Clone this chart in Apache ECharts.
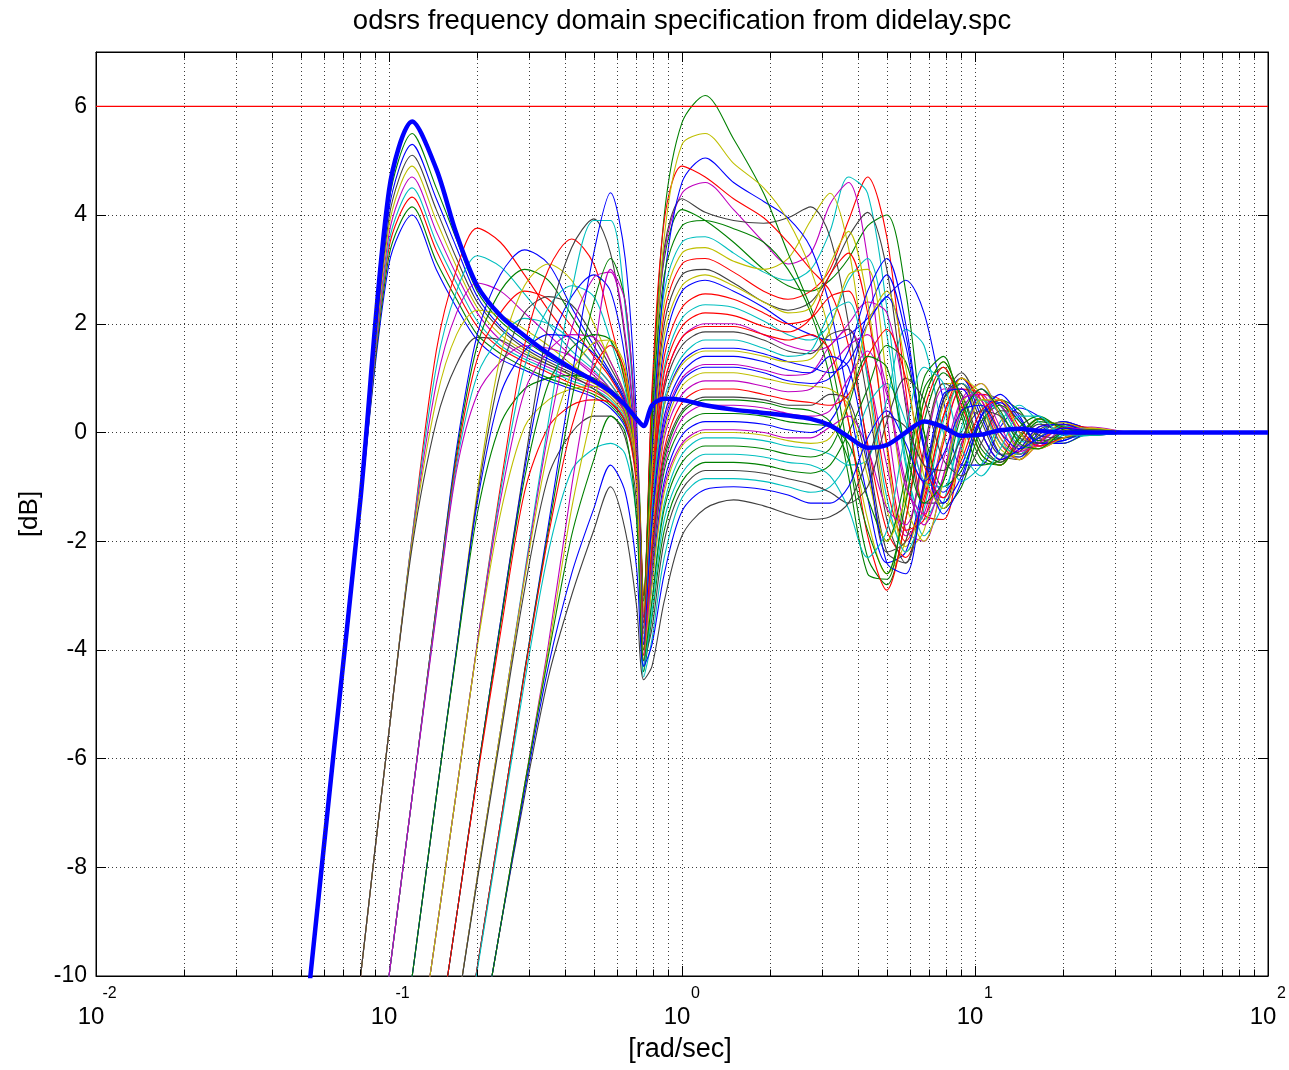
<!DOCTYPE html>
<html>
<head>
<meta charset="utf-8">
<script src="https://cdn.jsdelivr.net/npm/echarts@6/dist/echarts.min.js"></script>
<style>
html, body { margin: 0; padding: 0; background: #ffffff; }
#chart { width: 1289px; height: 1070px; }
</style>
</head>
<body>
<div id="chart"></div>
<script>
// Frequency points (rad/sec) shared by every response curve
const freq = [0.05, 0.065, 0.08, 0.1, 0.12, 0.145, 0.17, 0.2, 0.24, 0.29,
  0.35, 0.42, 0.5, 0.57, 0.64, 0.7, 0.74, 0.79, 0.87, 1.0,
  1.2, 1.5, 1.9, 2.3, 2.75, 3.2, 3.7, 4.3, 5.0, 5.8,
  6.7, 7.8, 9.0, 10.5, 12.2, 14.2, 16.5, 20, 25, 35,
  60, 100];

// Magnitude responses [dB], grouped by where the low-frequency rise starts
const riseGroupA = [
  [-11.7, -5.8, -1.3, 3.1, 4.0, 3.0, 2.3, 1.7, 1.35, 1.15, 0.95, 0.8, 0.65, 0.45, 0.1, -0.7, -3.3, -0.8, 1.6, 2.6, 2.8, 2.6, 2.3, 2.0, 1.8, 1.7, 1.8, 2.1, 2.5, 2.8, 2.2, 0.6, -0.6, -0.6, 0.1, 0.45, 0.3, -0.05, -0.05, 0, 0, 0],
  [-11.7, -5.8, -1.3, 3.25, 4.15, 3.15, 2.45, 1.8, 1.45, 1.2, 1.0, 0.85, 0.7, 0.5, 0.15, -0.65, -3.0, 0.5, 3.2, 4.1, 3.9, 3.5, 3.0, 2.7, 2.6, 2.8, 3.2, 3.8, 4.0, 2.6, 0.0, -1.4, -1.0, 0.1, 0.6, 0.4, -0.1, -0.2, 0.0, 0.02, 0, 0],
  [-11.7, -5.8, -1.3, 3.4, 4.33, 3.35, 2.6, 1.95, 1.55, 1.3, 1.1, 0.9, 0.75, 0.55, 0.2, -0.6, -3.4, -0.4, 2.2, 3.1, 3.2, 2.95, 2.6, 2.45, 2.6, 3.0, 3.9, 4.7, 3.6, 0.8, -1.5, -1.6, -0.3, 0.7, 0.6, 0.0, -0.3, -0.1, 0.05, 0, 0, 0],
  [-11.7, -5.8, -1.3, 3.5, 4.5, 3.5, 2.75, 2.05, 1.6, 1.35, 1.15, 0.95, 0.8, 0.6, 0.25, -0.55, -3.2, 0.0, 2.6, 3.5, 3.6, 3.3, 2.95, 2.8, 3.0, 3.7, 4.7, 4.4, 2.3, -0.5, -1.9, -1.3, 0.1, 0.8, 0.5, -0.1, -0.3, -0.05, 0.06, 0, 0, 0],
  [-11.7, -5.8, -1.3, 3.65, 4.7, 3.7, 2.9, 2.2, 1.7, 1.4, 1.2, 1.0, 0.85, 0.65, 0.3, -0.5, -3.3, 0.3, 3.3, 4.4, 4.6, 4.1, 3.5, 3.1, 3.3, 4.2, 4.6, 3.2, 0.3, -1.8, -2.0, -0.8, 0.6, 0.9, 0.3, -0.3, -0.3, 0.05, 0.1, 0, 0, 0],
  [-11.7, -5.8, -1.3, 3.8, 4.9, 3.9, 3.05, 2.3, 1.8, 1.5, 1.25, 1.05, 0.9, 0.7, 0.35, -0.45, -3.3, -0.2, 2.4, 3.3, 3.4, 3.15, 3.0, 3.2, 3.9, 4.4, 3.4, 1.0, -1.4, -2.1, -1.1, 0.5, 1.0, 0.5, -0.3, -0.45, -0.1, 0.15, 0.05, 0, 0, 0],
  [-11.7, -5.8, -1.3, 3.95, 5.1, 4.1, 3.2, 2.4, 1.9, 1.55, 1.3, 1.1, 0.95, 0.75, 0.4, -0.4, -3.1, 0.6, 3.4, 4.3, 4.05, 3.9, 3.85, 3.95, 4.15, 3.6, 2.0, -0.3, -2.2, -2.4, -1.0, 0.6, 1.1, 0.4, -0.4, -0.5, -0.05, 0.2, 0.05, 0, 0, 0],
  [-11.7, -5.8, -1.3, 4.1, 5.3, 4.3, 3.4, 2.5, 1.95, 1.6, 1.35, 1.15, 0.95, 0.8, 0.45, -0.3, -3.4, -0.3, 2.8, 4.6, 5.05, 4.6, 4.25, 3.95, 3.4, 2.3, 0.6, -1.2, -2.4, -2.2, -0.9, 0.6, 1.0, 0.3, -0.4, -0.45, 0.0, 0.2, 0.05, -0.02, 0, 0],
  [-11.7, -5.8, -1.3, 4.25, 5.5, 4.5, 3.55, 2.6, 2.05, 1.7, 1.4, 1.15, 1.0, 0.8, 0.5, -0.2, -3.0, 0.5, 4.0, 5.7, 6.2, 5.4, 4.4, 3.3, 2.3, 1.4, -0.4, -2.3, -2.8, -1.6, 0.2, 1.1, 0.7, -0.3, -0.55, -0.2, 0.2, 0.12, -0.03, 0, 0, 0]
];
const riseGroupB = [
  [-20, -14.8, -10, -5.5, -1.9, 1.5, 3.0, 3.76, 3.5, 2.9, 2.25, 1.7, 1.25, 0.9, 0.45, -0.4, -3.0, 0.8, 3.9, 4.9, 4.7, 4.3, 3.95, 3.5, 3.0, 2.6, 1.6, -0.2, -1.8, -2.3, -1.3, 0.3, 1.0, 0.6, -0.2, -0.5, -0.2, 0.15, 0.08, 0, 0, 0],
  [-20, -14.8, -10, -5.5, -1.9, 1.2, 2.6, 3.25, 3.05, 2.55, 2.0, 1.5, 1.15, 0.8, 0.4, -0.55, -3.6, -1.0, 1.2, 2.1, 2.35, 2.3, 2.05, 1.8, 1.7, 2.0, 2.8, 3.2, 1.8, -0.6, -1.6, -0.9, 0.4, 0.8, 0.3, -0.25, -0.3, 0.0, 0.06, 0, 0, 0],
  [-20, -14.8, -10, -5.5, -1.95, 0.9, 2.2, 2.75, 2.6, 2.2, 1.8, 1.4, 1.05, 0.75, 0.35, -0.65, -3.7, -1.7, 0.2, 1.0, 1.25, 1.25, 1.15, 1.05, 1.1, 1.6, 1.9, 1.1, -0.6, -1.9, -1.5, -0.1, 0.8, 0.6, -0.1, -0.4, -0.15, 0.1, 0.05, 0, 0, 0],
  [-20, -14.8, -10, -5.5, -2.0, 0.6, 1.8, 2.25, 2.15, 1.9, 1.6, 1.25, 0.95, 0.65, 0.3, -0.75, -3.2, 0.2, 3.6, 5.3, 5.5, 4.95, 4.5, 3.9, 3.0, 1.8, 0.2, -1.6, -2.6, -2.0, -0.5, 0.9, 0.9, 0.0, -0.5, -0.35, 0.1, 0.18, 0.02, -0.02, 0, 0],
  [-20, -14.8, -10, -5.5, -2.1, 0.2, 1.25, 1.75, 1.7, 1.45, 1.25, 1.05, 0.8, 0.55, 0.2, -0.9, -3.5, -0.6, 2.0, 2.9, 3.0, 2.75, 2.4, 2.25, 2.4, 2.9, 3.6, 4.05, 3.0, 0.5, -1.3, -1.3, -0.2, 0.6, 0.5, 0.0, -0.25, -0.1, 0.04, 0, 0, 0]
];
const riseGroupC = [
  [-22, -18, -14, -10, -6.7, -3.2, -0.3, 1.8, 2.9, 3.36, 3.1, 2.3, 1.6, 1.1, 0.6, -0.3, -4.3, -2.7, -0.9, -0.05, 0.2, 0.2, 0.15, 0.05, 0.0, 0.2, 0.9, 2.2, 2.9, 1.8, -0.2, -1.3, -0.8, 0.3, 0.6, 0.25, -0.2, -0.15, 0.02, 0, 0, 0],
  [-22, -18, -14, -10, -6.7, -3.2, -0.4, 1.6, 2.6, 3.0, 2.8, 2.15, 1.5, 1.05, 0.55, -0.4, -3.1, 0.2, 2.9, 3.8, 3.9, 3.75, 3.5, 3.0, 2.2, 1.0, -0.8, -2.6, -2.7, -1.0, 0.8, 1.2, 0.4, -0.5, -0.6, -0.05, 0.25, 0.1, -0.03, 0, 0, 0],
  [-22, -18, -14, -10, -6.7, -3.25, -0.5, 1.35, 2.2, 2.6, 2.45, 1.95, 1.4, 1.0, 0.5, -0.5, -3.5, -0.9, 1.4, 2.3, 2.55, 2.45, 2.2, 2.0, 2.1, 2.5, 2.6, 1.2, -1.0, -2.0, -1.2, 0.3, 0.9, 0.5, -0.2, -0.4, -0.1, 0.12, 0.04, 0, 0, 0],
  [-22, -18, -14, -10, -6.7, -3.3, -0.6, 1.05, 1.75, 2.1, 2.0, 1.7, 1.25, 0.9, 0.45, -0.6, -4.4, -3.1, -1.3, -0.4, -0.1, -0.1, -0.15, -0.25, -0.3, -0.4, -0.6, -0.5, 0.6, 1.9, 1.6, 0.0, -0.9, -0.6, 0.2, 0.5, 0.2, -0.1, -0.05, 0, 0, 0],
  [-22, -18, -14, -10, -6.7, -3.35, -0.7, 0.7, 1.3, 1.6, 1.55, 1.4, 1.1, 0.8, 0.35, -0.7, -3.7, -1.3, 0.9, 1.75, 2.0, 2.0, 1.8, 1.6, 1.5, 1.6, 2.0, 2.4, 2.2, 0.6, -1.0, -1.2, -0.2, 0.6, 0.5, 0.0, -0.25, -0.1, 0.03, 0, 0, 0]
];
const riseGroupD = [
  [-24, -20, -17, -13.2, -10, -6.7, -4.0, -1.1, 1.4, 2.7, 3.1, 2.8, 2.0, 1.3, 0.7, -0.2, -3.3, -0.7, 1.8, 2.7, 2.9, 2.7, 2.4, 2.2, 2.3, 3.1, 3.7, 2.4, -0.3, -2.2, -1.8, -0.1, 1.0, 0.7, -0.1, -0.5, -0.2, 0.12, 0.06, 0, 0, 0],
  [-24, -20, -17, -13.2, -10, -6.7, -4.0, -1.2, 1.1, 2.2, 2.5, 2.35, 1.75, 1.2, 0.65, -0.3, -3.9, -2.2, -0.4, 0.4, 0.65, 0.65, 0.6, 0.5, 0.5, 0.7, 0.6, -0.6, -2.2, -2.0, -0.3, 0.9, 0.7, -0.2, -0.55, -0.2, 0.15, 0.12, -0.02, 0, 0, 0],
  [-24, -20, -17, -13.2, -10, -6.7, -4.0, -1.3, 0.7, 1.5, 1.8, 1.75, 1.45, 1.05, 0.55, -0.45, -3.6, -1.5, 0.5, 1.3, 1.55, 1.55, 1.45, 1.3, 1.2, 1.1, 1.3, 2.0, 2.5, 1.6, -0.3, -1.1, -0.6, 0.3, 0.55, 0.2, -0.2, -0.15, 0.02, 0, 0, 0],
  [-24, -20, -17, -13.2, -10, -6.7, -4.05, -1.5, 0.15, 0.8, 1.0, 1.05, 0.95, 0.75, 0.4, -0.6, -4.4, -3.4, -1.8, -0.9, -0.55, -0.55, -0.6, -0.7, -0.75, -0.6, 0.0, 0.8, 1.6, 1.3, 0.0, -1.0, -0.7, 0.2, 0.5, 0.2, -0.15, -0.1, 0.02, 0, 0, 0]
];
const riseGroupE = [
  [-28, -24, -20, -15.6, -12.3, -9.2, -6.6, -3.9, -1.0, 1.6, 3.0, 3.56, 3.1, 2.0, 0.9, -0.3, -3.4, -1.1, 1.1, 1.95, 2.2, 2.15, 1.95, 1.85, 2.1, 2.9, 3.3, 2.2, -0.2, -1.8, -1.6, -0.2, 0.8, 0.7, 0.0, -0.4, -0.2, 0.1, 0.05, 0, 0, 0],
  [-28, -24, -20, -15.6, -12.3, -9.2, -6.6, -3.9, -1.1, 1.2, 2.3, 2.7, 2.5, 1.7, 0.8, -0.4, -4.5, -3.8, -2.3, -1.2, -0.85, -0.85, -0.9, -1.0, -1.1, -1.0, -0.5, 0.5, 0.9, 0.2, -0.9, -1.0, 0.0, 0.6, 0.35, -0.15, -0.2, 0.0, 0.04, 0, 0, 0],
  [-28, -24, -20, -15.6, -12.3, -9.2, -6.6, -3.9, -1.25, 0.75, 1.5, 1.8, 1.75, 1.3, 0.65, -0.55, -3.8, -2.0, -0.1, 0.7, 0.95, 0.95, 0.85, 0.75, 0.8, 1.2, 1.6, 1.8, 0.8, -0.9, -1.7, -0.8, 0.4, 0.8, 0.3, -0.25, -0.25, 0.05, 0.05, 0, 0, 0],
  [-28, -24, -20, -15.6, -12.3, -9.2, -6.6, -3.95, -1.5, 0.1, 0.6, 0.8, 0.85, 0.75, 0.4, -0.7, -3.7, -1.5, 0.5, 1.25, 1.5, 1.5, 1.4, 1.3, 1.35, 1.9, 2.9, 3.0, 1.0, -1.3, -2.0, -0.9, 0.5, 0.9, 0.3, -0.3, -0.3, 0.05, 0.08, 0, 0, 0]
];
const riseGroupF = [
  [-28, -24, -20.8, -17.2, -14.3, -11.4, -8.9, -6.3, -3.5, -0.6, 2.0, 3.4, 3.93, 3.3, 1.7, -0.4, -3.5, -1.2, 0.8, 1.6, 1.85, 1.85, 1.7, 1.5, 1.45, 1.8, 1.9, 0.6, -1.6, -2.4, -1.0, 0.6, 0.9, 0.2, -0.4, -0.35, 0.05, 0.15, 0.02, 0, 0, 0],
  [-28, -24, -20.8, -17.2, -14.3, -11.4, -8.9, -6.3, -3.5, -0.7, 1.5, 2.5, 2.9, 2.6, 1.35, -0.55, -3.9, -1.8, 0.1, 0.95, 1.2, 1.2, 1.1, 0.95, 0.9, 1.0, 1.5, 2.6, 3.2, 2.0, -0.3, -1.5, -0.9, 0.3, 0.7, 0.3, -0.2, -0.2, 0.02, 0, 0, 0],
  [-28, -24, -20.8, -17.2, -14.3, -11.4, -8.9, -6.3, -3.55, -0.85, 0.9, 1.55, 1.8, 1.7, 0.95, -0.7, -4.0, -2.5, -0.7, 0.1, 0.35, 0.35, 0.3, 0.2, 0.15, 0.1, -0.2, -1.2, -2.0, -0.8, 1.0, 1.4, 0.3, -0.6, -0.5, 0.1, 0.3, 0.05, -0.05, 0, 0, 0],
  [-28, -24, -20.8, -17.2, -14.3, -11.4, -8.9, -6.35, -3.7, -1.1, 0.1, 0.5, 0.6, 0.55, 0.2, -1.0, -3.6, -1.2, 0.9, 1.75, 1.95, 1.95, 1.8, 1.7, 1.8, 1.5, 0.2, -1.9, -2.9, -1.6, 0.4, 1.2, 0.5, -0.4, -0.6, -0.1, 0.25, 0.1, -0.03, 0, 0, 0]
];
const riseGroupG = [
  [-28, -25, -22, -18.8, -16, -13.1, -10.7, -8.2, -5.5, -2.6, 0.2, 2.6, 3.9, 3.9, 2.3, -0.3, -3.8, -1.4, 0.6, 1.4, 1.7, 1.7, 1.55, 1.4, 1.5, 2.2, 2.4, 1.0, -1.2, -2.2, -1.4, 0.2, 0.9, 0.5, -0.2, -0.4, -0.1, 0.12, 0.04, 0, 0, 0],
  [-28, -25, -22, -18.8, -16, -13.1, -10.7, -8.2, -5.5, -2.65, 0.0, 1.9, 2.85, 2.95, 1.8, -0.5, -4.1, -2.8, -1.0, -0.2, 0.05, 0.05, 0.0, -0.1, -0.1, 0.1, 0.3, -0.3, -1.4, -1.7, -0.4, 0.8, 0.8, 0.0, -0.5, -0.3, 0.1, 0.15, 0.0, 0, 0, 0],
  [-28, -25, -22, -18.8, -16, -13.1, -10.7, -8.2, -5.5, -2.7, -0.3, 1.1, 1.65, 1.7, 1.0, -0.8, -4.0, -1.9, 0.0, 0.85, 1.1, 1.1, 1.0, 0.9, 0.85, 0.8, 0.5, -0.8, -2.0, -1.2, 0.6, 1.3, 0.6, -0.4, -0.6, -0.1, 0.25, 0.1, -0.03, 0, 0, 0],
  [-28, -25, -22, -18.8, -16, -13.1, -10.7, -8.25, -5.6, -2.9, -0.8, 0.0, 0.3, 0.3, -0.1, -1.3, -4.2, -3.6, -2.0, -1.05, -0.7, -0.7, -0.75, -0.85, -0.95, -1.1, -1.3, -1.0, 0.2, 1.0, 0.6, -0.5, -0.8, -0.2, 0.4, 0.35, -0.05, -0.1, 0.0, 0, 0, 0]
];
const riseGroupH = [
  [-30, -27, -23.5, -20, -17.4, -14.6, -12.3, -9.85, -7.2, -4.4, -1.7, 1.0, 3.3, 4.41, 3.2, 0.2, -3.9, -1.6, 0.3, 1.1, 1.4, 1.4, 1.3, 1.15, 1.1, 1.4, 1.2, -0.5, -2.4, -2.6, -0.9, 0.7, 0.8, 0.0, -0.5, -0.3, 0.1, 0.15, 0.0, 0, 0, 0],
  [-30, -27, -23.5, -20, -17.4, -14.6, -12.3, -9.85, -7.2, -4.4, -1.8, 0.6, 2.4, 3.2, 2.4, -0.2, -4.0, -2.3, -0.5, 0.35, 0.6, 0.6, 0.55, 0.45, 0.4, 0.2, -0.5, -1.8, -2.6, -1.3, 0.6, 1.3, 0.6, -0.4, -0.6, -0.1, 0.25, 0.1, -0.03, 0, 0, 0],
  [-30, -27, -23.5, -20, -17.4, -14.6, -12.3, -9.85, -7.2, -4.45, -1.9, 0.1, 1.2, 1.6, 1.1, -0.8, -4.1, -2.1, -0.3, 0.55, 0.8, 0.8, 0.7, 0.6, 0.55, 0.5, 0.7, 1.4, 1.9, 1.0, -0.6, -1.2, -0.5, 0.4, 0.6, 0.1, -0.25, -0.1, 0.03, 0, 0, 0],
  [-30, -27, -23.5, -20, -17.4, -14.6, -12.3, -9.9, -7.3, -4.6, -2.2, -0.7, -0.3, -0.2, -0.4, -1.6, -4.3, -3.3, -1.6, -0.75, -0.4, -0.4, -0.45, -0.55, -0.6, -0.8, -1.4, -2.3, -1.8, 0.0, 1.2, 0.9, -0.3, -0.8, -0.3, 0.3, 0.3, -0.05, -0.05, 0, 0, 0]
];
const riseGroupI = [
  [-32, -28, -24.4, -21.3, -18.7, -16.1, -13.9, -11.6, -9.1, -6.5, -3.9, -1.0, 1.4, 3.0, 2.4, -0.2, -4.2, -2.4, -0.6, 0.25, 0.5, 0.5, 0.45, 0.35, 0.3, 0.4, 1.0, 1.5, 0.7, -1.0, -1.5, -0.5, 0.6, 0.7, 0.1, -0.35, -0.2, 0.08, 0.05, 0, 0, 0],
  [-32, -28, -24.4, -21.3, -18.7, -16.1, -13.9, -11.6, -9.1, -6.5, -4.0, -1.4, 0.5, 1.7, 1.2, -0.8, -4.2, -2.8, -1.1, -0.25, 0.0, 0.0, -0.05, -0.15, -0.2, -0.1, 0.6, 2.0, 2.6, 1.2, -0.8, -1.4, -0.4, 0.6, 0.6, 0.0, -0.3, -0.1, 0.04, 0, 0, 0],
  [-32, -28, -24.4, -21.3, -18.7, -16.1, -13.9, -11.6, -9.1, -6.7, -4.5, -3.0, -1.8, -1.0, -1.8, -3.2, -4.55, -4.3, -3.1, -1.9, -1.4, -1.24, -1.35, -1.5, -1.6, -1.55, -1.3, -0.5, 0.3, 0.1, -0.6, -0.7, -0.1, 0.4, 0.3, -0.1, -0.2, 0.0, 0.02, 0, 0, 0],
  [-32, -28, -24.4, -21.3, -18.7, -16.1, -13.9, -11.6, -9.1, -6.6, -4.3, -2.6, -1.4, -0.6, -1.1, -2.5, -4.3, -3.9, -2.6, -1.45, -1.05, -1.0, -1.05, -1.15, -1.3, -1.3, -1.0, -0.1, 0.4, -0.2, -0.9, -0.4, 0.4, 0.5, 0.0, -0.3, -0.1, 0.08, 0.02, 0, 0, 0],
  [-32, -28, -24.4, -21.3, -18.7, -16.1, -13.9, -11.6, -9.1, -6.5, -4.1, -1.9, -0.5, 0.3, 0.0, -1.6, -4.2, -3.1, -1.4, -0.55, -0.25, -0.25, -0.3, -0.4, -0.45, -0.3, 0.5, 1.4, 1.2, -0.3, -1.3, -0.9, 0.3, 0.8, 0.4, -0.2, -0.3, 0.0, 0.05, 0, 0, 0]
];

// Nominal response (heavy blue line)
const nominal = [-11.7, -5.8, -1.2, 4.45, 5.72, 4.85, 3.65, 2.7, 2.15, 1.78,
  1.45, 1.18, 0.95, 0.75, 0.5, 0.25, 0.12, 0.5, 0.62, 0.6,
  0.5, 0.42, 0.36, 0.31, 0.25, 0.13, -0.08, -0.28, -0.23, 0.0,
  0.2, 0.1, -0.06, -0.04, 0.04, 0.07, 0.03, 0.0, 0.0, 0,
  0, 0];

// Specification limit [dB]
const specLimit = 6;
const specRange = [0.01, 100];

// Axis ticks
const yTicks = [-10, -8, -6, -4, -2, 0, 2, 4, 6];
const minorFreq = [0.02, 0.03, 0.04, 0.05, 0.06, 0.07, 0.08, 0.09,
  0.2, 0.3, 0.4, 0.5, 0.6, 0.7, 0.8, 0.9,
  2, 3, 4, 5, 6, 7, 8, 9,
  20, 30, 40, 50, 60, 70, 80, 90];

// Classic plotting colour order: b g r c m y k
const colorOrder = ['#0000ff', '#008000', '#ff0000', '#00bfbf', '#bf00bf', '#bfbf00', '#404040'];

const responses = [].concat(riseGroupA, riseGroupB, riseGroupC, riseGroupD,
  riseGroupE, riseGroupF, riseGroupG, riseGroupH, riseGroupI);
responses.concat([nominal]).forEach(function (r, i) {
  if (r.length !== freq.length) throw new Error('response ' + i + ' has ' + r.length + ' points');
});

function pairs(values) {
  return values.map(function (v, i) { return [freq[i], v]; });
}

const FONT = '"Liberation Sans", Arial, Helvetica, sans-serif';
const dotted = { type: [1, 3], color: '#3a3a3a', width: 1 };

const series = [];

// minor grid lines and minor tick marks of the log frequency axis
const minorLines = [];
minorFreq.forEach(function (f) {
  minorLines.push({ xAxis: f, lineStyle: dotted });
  minorLines.push([{ coord: [f, -10], lineStyle: { type: 'solid', color: '#000', width: 1 } }, { coord: [f, -9.88] }]);
  minorLines.push([{ coord: [f, 7], lineStyle: { type: 'solid', color: '#000', width: 1 } }, { coord: [f, 6.88] }]);
});
series.push({
  name: 'gridMinor', type: 'line', data: [[0.01, -20]], symbol: 'none', silent: true, z: 1,
  lineStyle: { opacity: 0 },
  markLine: { silent: true, symbol: 'none', animation: false, label: { show: false }, data: minorLines }
});

responses.forEach(function (r, i) {
  series.push({
    type: 'line', data: pairs(r), showSymbol: false, symbol: 'none',
    smooth: 0.3, clip: true, silent: true, z: 2,
    lineStyle: { color: colorOrder[i % colorOrder.length], width: 1.1 }
  });
});

series.push({
  type: 'line', data: specRange.map(function (f) { return [f, specLimit]; }),
  showSymbol: false, symbol: 'none', silent: true, z: 3,
  lineStyle: { color: '#ff0000', width: 1.2 }
});

series.push({
  type: 'line', data: pairs(nominal), showSymbol: false, symbol: 'none',
  smooth: 0.3, clip: true, silent: true, z: 4,
  lineStyle: { color: '#0000ff', width: 4.5 }
});

const option = {
  animation: false,
  backgroundColor: '#ffffff',
  grid: { left: 96, right: 21, top: 52, bottom: 94, show: true, borderColor: '#000', borderWidth: 1,
    containLabel: false, outerBoundsMode: 'none' },
  xAxis: [{
    type: 'log', logBase: 10, min: 0.01, max: 100, position: 'bottom',
    axisLine: { show: true, onZero: false, lineStyle: { color: '#000', width: 1 } },
    axisTick: { show: true, inside: true, length: 10, lineStyle: { color: '#000' } },
    minorTick: { show: false }, minorSplitLine: { show: false },
    splitLine: { show: true, lineStyle: dotted },
    axisLabel: {
      margin: 9, color: '#000',
      formatter: function (v) {
        const e = String(Math.round(Math.log10(v)));
        return '{p|}{e|' + e + '}\n{b|10}{q|}';
      },
      rich: {
        p: { width: 27, lineHeight: 18 },
        e: { fontFamily: FONT, fontSize: 16, color: '#000', width: 10, align: 'left', lineHeight: 18 },
        b: { fontFamily: FONT, fontSize: 24, color: '#000', width: 27, align: 'center', lineHeight: 28 },
        q: { width: 10, lineHeight: 28 }
      }
    }
  }, {
    type: 'log', logBase: 10, min: 0.01, max: 100, position: 'top',
    axisLine: { show: true, onZero: false, lineStyle: { color: '#000', width: 1 } },
    axisTick: { show: true, inside: true, length: 10, lineStyle: { color: '#000' } },
    axisLabel: { show: false }, splitLine: { show: false }
  }],
  yAxis: [{
    type: 'value', min: -10, max: 7, interval: 2, position: 'left',
    axisLine: { show: true, onZero: false, lineStyle: { color: '#000', width: 1 } },
    axisTick: { show: true, inside: true, length: 10, lineStyle: { color: '#000' } },
    splitLine: { show: true, lineStyle: dotted },
    axisLabel: {
      margin: 9, color: '#000', fontFamily: FONT, fontSize: 23,
      formatter: function (v) { return yTicks.indexOf(v) >= 0 ? String(v) : ''; }
    }
  }, {
    type: 'value', min: -10, max: 7, interval: 2, position: 'right',
    axisLine: { show: true, onZero: false, lineStyle: { color: '#000', width: 1 } },
    axisTick: { show: true, inside: true, length: 10, lineStyle: { color: '#000' } },
    splitLine: { show: false }, axisLabel: { show: false }
  }],
  series: series,
  graphic: [
    { type: 'text', x: 682, y: 21, silent: true,
      style: { text: 'odsrs frequency domain specification from didelay.spc', font: '27.5px ' + FONT,
        fill: '#000', align: 'center', verticalAlign: 'middle', textAlign: 'center', textVerticalAlign: 'middle' } },
    { type: 'text', x: 680, y: 1050, silent: true,
      style: { text: '[rad/sec]', font: '27px ' + FONT,
        fill: '#000', align: 'center', verticalAlign: 'middle', textAlign: 'center', textVerticalAlign: 'middle' } },
    { type: 'text', x: 30, y: 514, rotation: Math.PI / 2, silent: true,
      style: { text: '[dB]', font: '26px ' + FONT,
        fill: '#000', align: 'center', verticalAlign: 'middle', textAlign: 'center', textVerticalAlign: 'middle' } }
  ]
};

const chart = echarts.init(document.getElementById('chart'), null, { renderer: 'canvas' });
chart.setOption(option);
</script>
</body>
</html>
